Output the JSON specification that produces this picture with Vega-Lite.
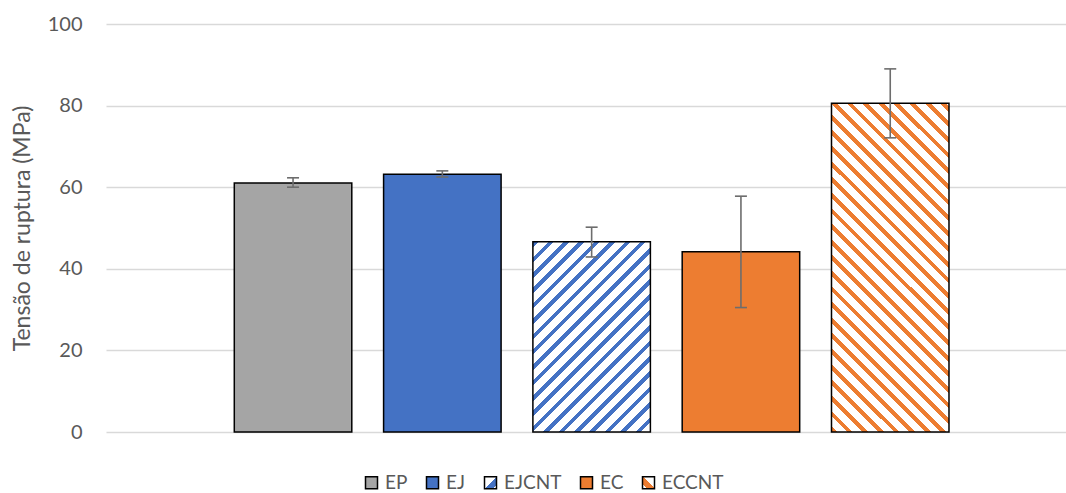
{
  "$schema": "https://vega.github.io/schema/vega-lite/v6.json",
  "autosize": "none",
  "width": 960,
  "height": 408,
  "padding": {"left": 106, "top": 24, "right": 0, "bottom": 61},
  "background": "white",
  "config": {"view": {"stroke": null}},
  "data": {"values": [
    {"Amostra": "EP", "Tensao": 61.0, "Low": 60.0, "High": 62.3},
    {"Amostra": "EJ", "Tensao": 63.2, "Low": 62.5, "High": 64.0},
    {"Amostra": "EJCNT", "Tensao": 46.6, "Low": 42.9, "High": 50.2},
    {"Amostra": "EC", "Tensao": 44.2, "Low": 30.5, "High": 57.8},
    {"Amostra": "ECCNT", "Tensao": 80.6, "Low": 72.1, "High": 89.0}
  ]},
  "encoding": {
    "x": {"field": "Amostra", "type": "nominal", "sort": ["EP", "EJ", "EJCNT", "EC", "ECCNT"],
      "scale": {"paddingInner": 0.213, "paddingOuter": 0.8215, "align": 0.523}, "axis": null}
  },
  "layer": [
    {
      "mark": {"type": "bar", "strokeWidth": 1.5},
      "encoding": {
        "y": {"field": "Tensao", "type": "quantitative",
          "scale": {"domain": [0, 100], "nice": false},
          "axis": {"values": [0, 20, 40, 60, 80, 100], "grid": true, "gridColor": "#D9D9D9", "gridWidth": 1.3,
            "domain": false, "ticks": false, "labelFont": "Lato", "labelFontSize": 20, "labelColor": "#595959",
            "labelPadding": 24, "title": "Tensão de ruptura (MPa)", "titleFont": "Lato", "titleFontSize": 23,
            "titleFontWeight": "normal", "titleColor": "#595959", "titlePadding": 13}},
        "stroke": {"field": "Amostra", "type": "nominal",
          "scale": {"domain": ["EP", "EJ", "EJCNT", "EC", "ECCNT"], "range": ["#000000", "#000000", "#000000", "#000000", "#000000"]},
          "legend": {
            "orient": "none", "legendX": 256, "legendY": 449, "direction": "horizontal", "title": null,
            "symbolType": "square", "symbolSize": 144, "symbolOpacity": 1, "symbolStrokeWidth": 1.5,
            "labelFont": "Lato", "labelFontSize": 19, "labelColor": "#595959", "labelOffset": 4, "columnPadding": 15
          }
        },
        "fill": {
          "condition": [
            {"test": "datum.Amostra === 'EJCNT'", "value": {"gradient": "linear", "x1": 0, "y1": 0, "x2": 0.7235, "y2": 1.171, "stops": [
              {"offset": 0, "color": "#4472C4"}, {"offset": 0.018, "color": "#4472C4"}, {"offset": 0.018, "color": "#FFFFFF"}, {"offset": 0.05, "color": "#FFFFFF"},
              {"offset": 0.05, "color": "#4472C4"}, {"offset": 0.068, "color": "#4472C4"}, {"offset": 0.068, "color": "#FFFFFF"}, {"offset": 0.10, "color": "#FFFFFF"},
              {"offset": 0.10, "color": "#4472C4"}, {"offset": 0.118, "color": "#4472C4"}, {"offset": 0.118, "color": "#FFFFFF"}, {"offset": 0.15, "color": "#FFFFFF"},
              {"offset": 0.15, "color": "#4472C4"}, {"offset": 0.168, "color": "#4472C4"}, {"offset": 0.168, "color": "#FFFFFF"}, {"offset": 0.20, "color": "#FFFFFF"},
              {"offset": 0.20, "color": "#4472C4"}, {"offset": 0.218, "color": "#4472C4"}, {"offset": 0.218, "color": "#FFFFFF"}, {"offset": 0.25, "color": "#FFFFFF"},
              {"offset": 0.25, "color": "#4472C4"}, {"offset": 0.268, "color": "#4472C4"}, {"offset": 0.268, "color": "#FFFFFF"}, {"offset": 0.30, "color": "#FFFFFF"},
              {"offset": 0.30, "color": "#4472C4"}, {"offset": 0.318, "color": "#4472C4"}, {"offset": 0.318, "color": "#FFFFFF"}, {"offset": 0.35, "color": "#FFFFFF"},
              {"offset": 0.35, "color": "#4472C4"}, {"offset": 0.368, "color": "#4472C4"}, {"offset": 0.368, "color": "#FFFFFF"}, {"offset": 0.40, "color": "#FFFFFF"},
              {"offset": 0.40, "color": "#4472C4"}, {"offset": 0.418, "color": "#4472C4"}, {"offset": 0.418, "color": "#FFFFFF"}, {"offset": 0.45, "color": "#FFFFFF"},
              {"offset": 0.45, "color": "#4472C4"}, {"offset": 0.468, "color": "#4472C4"}, {"offset": 0.468, "color": "#FFFFFF"}, {"offset": 0.50, "color": "#FFFFFF"},
              {"offset": 0.50, "color": "#4472C4"}, {"offset": 0.518, "color": "#4472C4"}, {"offset": 0.518, "color": "#FFFFFF"}, {"offset": 0.55, "color": "#FFFFFF"},
              {"offset": 0.55, "color": "#4472C4"}, {"offset": 0.568, "color": "#4472C4"}, {"offset": 0.568, "color": "#FFFFFF"}, {"offset": 0.60, "color": "#FFFFFF"},
              {"offset": 0.60, "color": "#4472C4"}, {"offset": 0.618, "color": "#4472C4"}, {"offset": 0.618, "color": "#FFFFFF"}, {"offset": 0.65, "color": "#FFFFFF"},
              {"offset": 0.65, "color": "#4472C4"}, {"offset": 0.668, "color": "#4472C4"}, {"offset": 0.668, "color": "#FFFFFF"}, {"offset": 0.70, "color": "#FFFFFF"},
              {"offset": 0.70, "color": "#4472C4"}, {"offset": 0.718, "color": "#4472C4"}, {"offset": 0.718, "color": "#FFFFFF"}, {"offset": 0.75, "color": "#FFFFFF"},
              {"offset": 0.75, "color": "#4472C4"}, {"offset": 0.768, "color": "#4472C4"}, {"offset": 0.768, "color": "#FFFFFF"}, {"offset": 0.80, "color": "#FFFFFF"},
              {"offset": 0.80, "color": "#4472C4"}, {"offset": 0.818, "color": "#4472C4"}, {"offset": 0.818, "color": "#FFFFFF"}, {"offset": 0.85, "color": "#FFFFFF"},
              {"offset": 0.85, "color": "#4472C4"}, {"offset": 0.868, "color": "#4472C4"}, {"offset": 0.868, "color": "#FFFFFF"}, {"offset": 0.90, "color": "#FFFFFF"},
              {"offset": 0.90, "color": "#4472C4"}, {"offset": 0.918, "color": "#4472C4"}, {"offset": 0.918, "color": "#FFFFFF"}, {"offset": 0.95, "color": "#FFFFFF"},
              {"offset": 0.95, "color": "#4472C4"}, {"offset": 0.968, "color": "#4472C4"}, {"offset": 0.968, "color": "#FFFFFF"}, {"offset": 1.0, "color": "#FFFFFF"}
            ]}},
            {"test": "datum.Amostra === 'ECCNT'", "value": {"gradient": "linear", "x1": 0, "y1": 1, "x2": 0.4297, "y2": -0.2035, "stops": [
              {"offset": 0, "color": "#ED7D31"}, {"offset": 0.013, "color": "#ED7D31"}, {"offset": 0.013, "color": "#FFFFFF"}, {"offset": 0.035, "color": "#FFFFFF"},
              {"offset": 0.035, "color": "#ED7D31"}, {"offset": 0.048, "color": "#ED7D31"}, {"offset": 0.048, "color": "#FFFFFF"}, {"offset": 0.07, "color": "#FFFFFF"},
              {"offset": 0.07, "color": "#ED7D31"}, {"offset": 0.083, "color": "#ED7D31"}, {"offset": 0.083, "color": "#FFFFFF"}, {"offset": 0.105, "color": "#FFFFFF"},
              {"offset": 0.105, "color": "#ED7D31"}, {"offset": 0.118, "color": "#ED7D31"}, {"offset": 0.118, "color": "#FFFFFF"}, {"offset": 0.14, "color": "#FFFFFF"},
              {"offset": 0.14, "color": "#ED7D31"}, {"offset": 0.153, "color": "#ED7D31"}, {"offset": 0.153, "color": "#FFFFFF"}, {"offset": 0.175, "color": "#FFFFFF"},
              {"offset": 0.175, "color": "#ED7D31"}, {"offset": 0.188, "color": "#ED7D31"}, {"offset": 0.188, "color": "#FFFFFF"}, {"offset": 0.21, "color": "#FFFFFF"},
              {"offset": 0.21, "color": "#ED7D31"}, {"offset": 0.223, "color": "#ED7D31"}, {"offset": 0.223, "color": "#FFFFFF"}, {"offset": 0.245, "color": "#FFFFFF"},
              {"offset": 0.245, "color": "#ED7D31"}, {"offset": 0.258, "color": "#ED7D31"}, {"offset": 0.258, "color": "#FFFFFF"}, {"offset": 0.28, "color": "#FFFFFF"},
              {"offset": 0.28, "color": "#ED7D31"}, {"offset": 0.293, "color": "#ED7D31"}, {"offset": 0.293, "color": "#FFFFFF"}, {"offset": 0.315, "color": "#FFFFFF"},
              {"offset": 0.315, "color": "#ED7D31"}, {"offset": 0.328, "color": "#ED7D31"}, {"offset": 0.328, "color": "#FFFFFF"}, {"offset": 0.35, "color": "#FFFFFF"},
              {"offset": 0.35, "color": "#ED7D31"}, {"offset": 0.363, "color": "#ED7D31"}, {"offset": 0.363, "color": "#FFFFFF"}, {"offset": 0.385, "color": "#FFFFFF"},
              {"offset": 0.385, "color": "#ED7D31"}, {"offset": 0.398, "color": "#ED7D31"}, {"offset": 0.398, "color": "#FFFFFF"}, {"offset": 0.42, "color": "#FFFFFF"},
              {"offset": 0.42, "color": "#ED7D31"}, {"offset": 0.433, "color": "#ED7D31"}, {"offset": 0.433, "color": "#FFFFFF"}, {"offset": 0.455, "color": "#FFFFFF"},
              {"offset": 0.455, "color": "#ED7D31"}, {"offset": 0.468, "color": "#ED7D31"}, {"offset": 0.468, "color": "#FFFFFF"}, {"offset": 0.49, "color": "#FFFFFF"},
              {"offset": 0.49, "color": "#ED7D31"}, {"offset": 0.503, "color": "#ED7D31"}, {"offset": 0.503, "color": "#FFFFFF"}, {"offset": 0.525, "color": "#FFFFFF"},
              {"offset": 0.525, "color": "#ED7D31"}, {"offset": 0.538, "color": "#ED7D31"}, {"offset": 0.538, "color": "#FFFFFF"}, {"offset": 0.56, "color": "#FFFFFF"},
              {"offset": 0.56, "color": "#ED7D31"}, {"offset": 0.573, "color": "#ED7D31"}, {"offset": 0.573, "color": "#FFFFFF"}, {"offset": 0.595, "color": "#FFFFFF"},
              {"offset": 0.595, "color": "#ED7D31"}, {"offset": 0.608, "color": "#ED7D31"}, {"offset": 0.608, "color": "#FFFFFF"}, {"offset": 0.63, "color": "#FFFFFF"},
              {"offset": 0.63, "color": "#ED7D31"}, {"offset": 0.643, "color": "#ED7D31"}, {"offset": 0.643, "color": "#FFFFFF"}, {"offset": 0.665, "color": "#FFFFFF"},
              {"offset": 0.665, "color": "#ED7D31"}, {"offset": 0.678, "color": "#ED7D31"}, {"offset": 0.678, "color": "#FFFFFF"}, {"offset": 0.70, "color": "#FFFFFF"},
              {"offset": 0.70, "color": "#ED7D31"}, {"offset": 0.713, "color": "#ED7D31"}, {"offset": 0.713, "color": "#FFFFFF"}, {"offset": 0.735, "color": "#FFFFFF"},
              {"offset": 0.735, "color": "#ED7D31"}, {"offset": 0.748, "color": "#ED7D31"}, {"offset": 0.748, "color": "#FFFFFF"}, {"offset": 0.77, "color": "#FFFFFF"},
              {"offset": 0.77, "color": "#ED7D31"}, {"offset": 0.783, "color": "#ED7D31"}, {"offset": 0.783, "color": "#FFFFFF"}, {"offset": 0.805, "color": "#FFFFFF"},
              {"offset": 0.805, "color": "#ED7D31"}, {"offset": 0.818, "color": "#ED7D31"}, {"offset": 0.818, "color": "#FFFFFF"}, {"offset": 0.84, "color": "#FFFFFF"},
              {"offset": 0.84, "color": "#ED7D31"}, {"offset": 0.853, "color": "#ED7D31"}, {"offset": 0.853, "color": "#FFFFFF"}, {"offset": 0.875, "color": "#FFFFFF"},
              {"offset": 0.875, "color": "#ED7D31"}, {"offset": 0.888, "color": "#ED7D31"}, {"offset": 0.888, "color": "#FFFFFF"}, {"offset": 0.91, "color": "#FFFFFF"},
              {"offset": 0.91, "color": "#ED7D31"}, {"offset": 0.923, "color": "#ED7D31"}, {"offset": 0.923, "color": "#FFFFFF"}, {"offset": 0.945, "color": "#FFFFFF"},
              {"offset": 0.945, "color": "#ED7D31"}, {"offset": 0.958, "color": "#ED7D31"}, {"offset": 0.958, "color": "#FFFFFF"}, {"offset": 0.98, "color": "#FFFFFF"},
              {"offset": 0.98, "color": "#ED7D31"}, {"offset": 0.993, "color": "#ED7D31"}, {"offset": 0.993, "color": "#FFFFFF"}, {"offset": 1.0, "color": "#FFFFFF"}
            ]}}
          ],
          "field": "Amostra", "type": "nominal",
          "scale": {"domain": ["EP", "EJ", "EJCNT", "EC", "ECCNT"], "range": [
            "#A5A5A5", "#4472C4",
            {"expr": "{gradient: 'linear', x1: 0, y1: 0, x2: 1, y2: 1, stops: [{offset: 0, color: '#FFFFFF'}, {offset: 0.5, color: '#FFFFFF'}, {offset: 0.5, color: '#4472C4'}, {offset: 0.85, color: '#4472C4'}, {offset: 0.85, color: '#FFFFFF'}, {offset: 1, color: '#FFFFFF'}]}"},
            "#ED7D31",
            {"expr": "{gradient: 'linear', x1: 0, y1: 1, x2: 1, y2: 0, stops: [{offset: 0, color: '#FFFFFF'}, {offset: 0.2, color: '#FFFFFF'}, {offset: 0.2, color: '#ED7D31'}, {offset: 0.55, color: '#ED7D31'}, {offset: 0.55, color: '#FFFFFF'}, {offset: 1, color: '#FFFFFF'}]}"}
          ]},
          "legend": {
            "orient": "none", "legendX": 256, "legendY": 449, "direction": "horizontal", "title": null,
            "symbolType": "square", "symbolSize": 144, "symbolOpacity": 1, "symbolStrokeWidth": 1.5,
            "labelFont": "Lato", "labelFontSize": 19, "labelColor": "#595959", "labelOffset": 4, "columnPadding": 15
          }
        }
      }
    },
    {
      "mark": {"type": "rule", "color": "#6D6D6D", "strokeWidth": 1.6},
      "encoding": {"y": {"field": "Low", "type": "quantitative"}, "y2": {"field": "High"}}
    },
    {
      "mark": {"type": "tick", "orient": "horizontal", "size": 12, "thickness": 1.6, "color": "#6D6D6D", "opacity": 1},
      "encoding": {"y": {"field": "Low", "type": "quantitative"}}
    },
    {
      "mark": {"type": "tick", "orient": "horizontal", "size": 12, "thickness": 1.6, "color": "#6D6D6D", "opacity": 1},
      "encoding": {"y": {"field": "High", "type": "quantitative"}}
    }
  ]
}
